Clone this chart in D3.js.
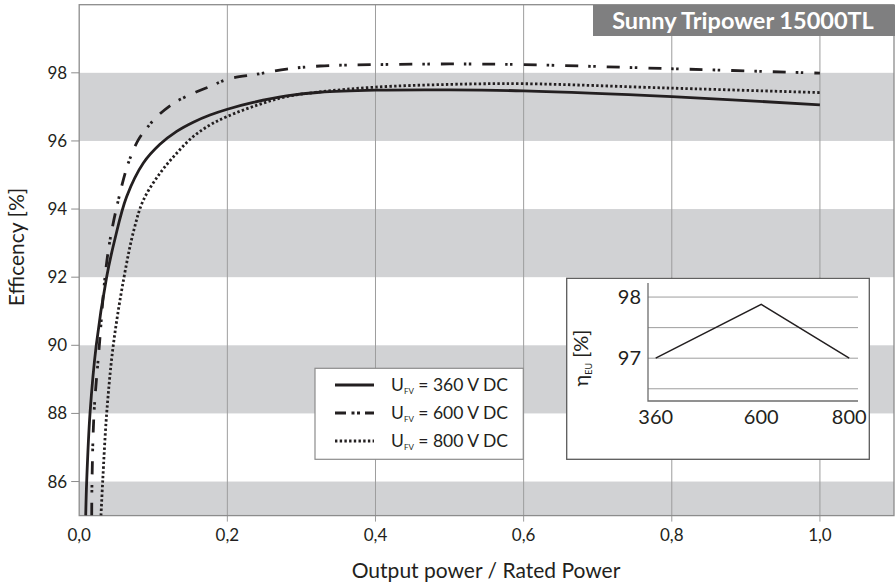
<!DOCTYPE html>
<html>
<head>
<meta charset="utf-8">
<script src="https://cdn.jsdelivr.net/npm/d3@7"></script>
<style>
  body { margin: 0; background: #fff; }
  text { font-family: Lato, "Open Sans", sans-serif; fill: #231f20; }
</style>
</head>
<body>
<div id="chart"></div>
<script>
// values: [output power / rated power, efficiency %]
const eff360 = [[0.0088,85],[0.0101,86],[0.0146,88],[0.023,90],[0.037,92],[0.048,93.1],[0.064,94.36],[0.0866,95.35],[0.109,95.9],[0.1316,96.28],[0.154,96.55],[0.1766,96.76],[0.2,96.93],[0.235,97.13],[0.28,97.32],[0.325,97.43],[0.4,97.49],[0.5,97.5],[0.6,97.47],[0.8,97.3],[1.0,97.06]];
const eff600 = [[0.0169,85],[0.0173,86],[0.02,88],[0.0272,90],[0.0348,92],[0.0416,93.09],[0.0528,94.26],[0.0663,95.35],[0.0798,96.03],[0.091,96.37],[0.1047,96.71],[0.127,97.1],[0.154,97.4],[0.1766,97.6],[0.2,97.81],[0.24,97.96],[0.28,98.11],[0.325,98.2],[0.4,98.24],[0.5,98.26],[0.6,98.24],[0.8,98.12],[1.0,97.99]];
const eff800 = [[0.0294,85],[0.0317,86],[0.0371,88],[0.046,90],[0.0605,92],[0.074,93.4],[0.0866,94.26],[0.109,95.05],[0.1316,95.64],[0.154,96.13],[0.1766,96.47],[0.2,96.72],[0.24,97.05],[0.28,97.3],[0.325,97.44],[0.4,97.58],[0.5,97.66],[0.6,97.68],[0.8,97.55],[1.0,97.42]];

const xTicks = [0, 0.2, 0.4, 0.6, 0.8, 1.0];
const yTicks = [86, 88, 90, 92, 94, 96, 98];
const bands = [[84, 86], [88, 90], [92, 94], [96, 98]];

// inset: euro efficiency vs. DC voltage
const euVoltage = [360, 600, 800];
const euEff = [97.0, 97.88, 97.0];
const euYTicks = [97, 98];
const euGrid = [96.5, 97, 97.5, 98];

const series = [
  { name: "360", data: eff360, dash: null, legendDash: null, width: 2.8 },
  { name: "600", data: eff600, dash: "13,10,2.5,2.5,2.5,11", legendDash: "11,5.5,3,2.5,3,5", width: 2.8 },
  { name: "800", data: eff800, dash: "2.4,2.3", legendDash: "2.4,2.3", width: 2.8 }
];

const W = 895, H = 587;
const svg = d3.select("#chart").append("svg")
  .attr("width", W).attr("height", H);

// main plot area
const pLeft = 79.2, pRight = 894, pTop = 4.7, pBottom = 515.6;
const x = d3.scaleLinear().domain([0, 1.1]).range([pLeft, pRight]);
const y = d3.scaleLinear().domain([85, 100]).range([pBottom, pTop]);

svg.append("clipPath").attr("id", "plotclip")
  .append("rect").attr("x", pLeft).attr("y", pTop)
  .attr("width", pRight - pLeft).attr("height", pBottom - pTop);

// grey bands
svg.append("g").attr("clip-path", "url(#plotclip)")
  .selectAll("rect").data(bands).join("rect")
  .attr("x", pLeft).attr("width", pRight - pLeft)
  .attr("y", d => y(d[1])).attr("height", d => y(d[0]) - y(d[1]))
  .attr("fill", "#d1d2d4");

// vertical grid lines (with tick stubs below the axis)
svg.append("g").selectAll("line").data(xTicks.slice(1)).join("line")
  .attr("x1", d => x(d)).attr("x2", d => x(d))
  .attr("y1", pTop).attr("y2", pBottom + 6)
  .attr("stroke", "#9d9d9d").attr("stroke-width", 1);

// frame
svg.append("rect")
  .attr("x", pLeft).attr("y", pTop)
  .attr("width", pRight - pLeft).attr("height", pBottom - pTop)
  .attr("fill", "none").attr("stroke", "#8c8c8c").attr("stroke-width", 1.3);

// y ticks + labels
const yAxis = svg.append("g");
yAxis.selectAll("line").data(yTicks).join("line")
  .attr("x1", pLeft - 8).attr("x2", pLeft)
  .attr("y1", d => y(d)).attr("y2", d => y(d))
  .attr("stroke", "#8c8c8c");
yAxis.selectAll("text").data(yTicks).join("text")
  .attr("x", pLeft - 12).attr("y", d => y(d) + 6)
  .attr("text-anchor", "end").style("font-size", "17px")
  .text(d => d);

// x tick labels
svg.append("g").selectAll("text").data(xTicks).join("text")
  .attr("x", d => x(d)).attr("y", pBottom + 25.5)
  .attr("text-anchor", "middle").style("font-size", "17px")
  .text(d => d3.format(".1f")(d).replace(".", ","));

// axis titles
svg.append("text")
  .attr("x", 486).attr("y", 578)
  .attr("text-anchor", "middle").style("font-size", "21px")
  .text("Output power / Rated Power");
svg.append("text")
  .attr("transform", "translate(24,247) rotate(-90)")
  .attr("text-anchor", "middle").style("font-size", "21px")
  .text("Efficency [%]");

// curves
const line = d3.line()
  .x(d => x(d[0])).y(d => y(d[1]))
  .curve(d3.curveCatmullRom.alpha(0.5));
svg.append("g").attr("clip-path", "url(#plotclip)")
  .selectAll("path").data(series).join("path")
  .attr("d", d => line(d.data))
  .attr("fill", "none").attr("stroke", "#231f20")
  .attr("stroke-width", d => d.width)
  .attr("stroke-dasharray", d => d.dash);

// title box
svg.append("rect")
  .attr("x", 593).attr("y", 5).attr("width", 302).attr("height", 31)
  .attr("fill", "#7f7f80");
svg.append("text")
  .attr("x", 743).attr("y", 28.5).attr("text-anchor", "middle")
  .style("font-size", "23.5px").style("font-weight", "bold").style("fill", "#fff")
  .text("Sunny Tripower 15000TL");

// legend
const lg = svg.append("g");
lg.append("rect")
  .attr("x", 315).attr("y", 368.3).attr("width", 208.3).attr("height", 91)
  .attr("fill", "#fff").attr("stroke", "#8c8c8c").attr("stroke-width", 1.2);
const rows = lg.selectAll("g.row").data(series).join("g")
  .attr("class", "row")
  .attr("transform", (d, i) => `translate(0,${385 + i * 28})`);
rows.append("line")
  .attr("x1", 335).attr("x2", 374).attr("y1", 0).attr("y2", 0)
  .attr("stroke", "#231f20").attr("stroke-width", 2.8)
  .attr("stroke-dasharray", d => d.legendDash);
const lt = rows.append("text").attr("x", 391).attr("y", 6)
  .style("font-size", "17.5px");
lt.append("tspan").text("U");
lt.append("tspan").attr("dy", 3).style("font-size", "8px").text("FV");
lt.append("tspan").attr("dy", -3).text(d => ` = ${d.name} V DC`);

// inset
const ins = svg.append("g");
ins.append("rect")
  .attr("x", 566.7).attr("y", 278.3).attr("width", 302.6).attr("height", 181)
  .attr("fill", "#fff").attr("stroke", "#5a5a5a").attr("stroke-width", 1.3);
const ix = d3.scaleLinear().domain([342.5, 820]).range([648, 858]);
const iy = d3.scaleLinear().domain([96.3, 98.23]).range([401, 283]);
ins.selectAll("line.grid").data(euGrid).join("line")
  .attr("class", "grid")
  .attr("x1", 648).attr("x2", 858)
  .attr("y1", d => iy(d)).attr("y2", d => iy(d))
  .attr("stroke", "#9d9d9d").attr("stroke-width", 1);
ins.append("path")
  .attr("d", `M648,${iy.range()[1]}V401H858`)
  .attr("fill", "none").attr("stroke", "#6d6d6d").attr("stroke-width", 1.3);
ins.append("path")
  .datum(euVoltage.map((v, i) => [v, euEff[i]]))
  .attr("d", d3.line().x(d => ix(d[0])).y(d => iy(d[1])))
  .attr("fill", "none").attr("stroke", "#231f20").attr("stroke-width", 1.5);
ins.selectAll("text.yt").data(euYTicks).join("text")
  .attr("class", "yt")
  .attr("x", 641).attr("y", d => iy(d) + 7)
  .attr("text-anchor", "end").style("font-size", "20px")
  .text(d => d);
ins.selectAll("text.xt").data(euVoltage).join("text")
  .attr("class", "xt")
  .attr("x", d => ix(d)).attr("y", 423.5)
  .attr("text-anchor", "middle").style("font-size", "20px")
  .text(d => d);
const il = ins.append("text")
  .attr("transform", "translate(588,358) rotate(-90)")
  .attr("text-anchor", "middle").style("font-size", "20px");
il.append("tspan").text("η");
il.append("tspan").attr("dy", 4).style("font-size", "9px").text("EU");
il.append("tspan").attr("dy", -4).text(" [%]");
</script>
</body>
</html>
